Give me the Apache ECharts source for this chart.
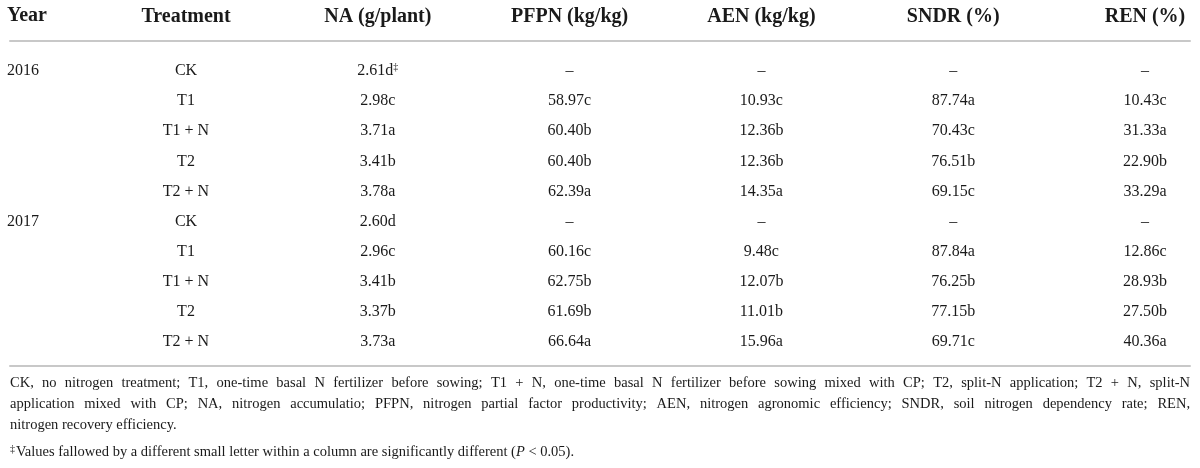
<!DOCTYPE html>
<html>
<head>
<meta charset="utf-8">
<title>Nitrogen use table</title>
<script src="https://cdn.jsdelivr.net/npm/echarts@6/dist/echarts.min.js"></script>
<style>
  html, body { margin: 0; padding: 0; background: #fff; }
  #main { width: 1200px; height: 468px; }
</style>
</head>
<body>
<div id="main"></div>
<script>
// table data
var columns = ['Treatment', 'NA (g/plant)', 'PFPN (kg/kg)', 'AEN (kg/kg)', 'SNDR (%)', 'REN (%)'];
var yearLabels = ['2016', '', '', '', '', '2017', '', '', '', ''];
var treatments = ['CK', 'T1', 'T1 + N', 'T2', 'T2 + N', 'CK', 'T1', 'T1 + N', 'T2', 'T2 + N'];

// values and significance letters, null = no value (–)
var naValues = [2.61, 2.98, 3.71, 3.41, 3.78, 2.60, 2.96, 3.41, 3.37, 3.73];
var naLetters = ['d', 'c', 'a', 'b', 'a', 'd', 'c', 'b', 'b', 'a'];
var pfpnValues = [null, 58.97, 60.40, 60.40, 62.39, null, 60.16, 62.75, 61.69, 66.64];
var pfpnLetters = ['', 'c', 'b', 'b', 'a', '', 'c', 'b', 'b', 'a'];
var aenValues = [null, 10.93, 12.36, 12.36, 14.35, null, 9.48, 12.07, 11.01, 15.96];
var aenLetters = ['', 'c', 'b', 'b', 'a', '', 'c', 'b', 'b', 'a'];
var sndrValues = [null, 87.74, 70.43, 76.51, 69.15, null, 87.84, 76.25, 77.15, 69.71];
var sndrLetters = ['', 'a', 'c', 'b', 'c', '', 'a', 'b', 'b', 'c'];
var renValues = [null, 10.43, 31.33, 22.90, 33.29, null, 12.86, 28.93, 27.50, 40.36];
var renLetters = ['', 'c', 'a', 'b', 'a', '', 'c', 'b', 'b', 'a'];

var footLines = [
  'CK, no nitrogen treatment; T1, one-time basal N fertilizer before sowing; T1 + N, one-time basal N fertilizer before sowing mixed with CP; T2, split-N application; T2 + N, split-N',
  'application mixed with CP; NA, nitrogen accumulatio; PFPN, nitrogen partial factor productivity; AEN, nitrogen agronomic efficiency; SNDR, soil nitrogen dependency rate; REN,',
  'nitrogen recovery efficiency.'
];

var serif = '"Liberation Serif", "DejaVu Serif", serif';
var ink = '#1a1a1a';
var rule = '#c8c8c8';

// build the cells: [column, row, text]
var cells = [];
treatments.forEach(function (t, i) { cells.push([0, i, t]); });
[[naValues, naLetters], [pfpnValues, pfpnLetters], [aenValues, aenLetters],
 [sndrValues, sndrLetters], [renValues, renLetters]].forEach(function (pair, c) {
  pair[0].forEach(function (v, i) {
    var txt = v == null ? '–' : v.toFixed(2) + pair[1][i];
    // first NA cell carries the footnote mark
    if (c === 0 && i === 0) txt += '{sup|‡}';
    cells.push([c + 1, i, txt]);
  });
});

// footnote: first two lines are justified to the full width
var footFont = '14.5px ' + serif;
var ctx = document.createElement('canvas').getContext('2d');
ctx.font = footFont;
var footGraphics = [];
footLines.forEach(function (line, li) {
  var y = 376 + li * 21;
  if (li === footLines.length - 1) {
    footGraphics.push({ type: 'text', x: 10, y: y, style: { text: line, font: footFont, fill: ink } });
    return;
  }
  var words = line.split(' ');
  var widths = words.map(function (w) { return ctx.measureText(w).width; });
  var total = widths.reduce(function (a, b) { return a + b; }, 0);
  var gap = (1190 - 10 - total) / (words.length - 1);
  var x = 10;
  words.forEach(function (w, k) {
    footGraphics.push({ type: 'text', x: x, y: y, style: { text: w, font: footFont, fill: ink } });
    x += widths[k] + gap;
  });
});
footGraphics.push({
  type: 'text', x: 10, y: 444,
  style: {
    text: '{sup|‡}Values fallowed by a different small letter within a column are significantly different ({it|P} < 0.05).',
    font: footFont, fill: ink,
    rich: {
      sup: { font: '10px ' + serif, fill: ink, padding: [0, 1, 7, 0] },
      it: { font: 'italic 14.5px ' + serif, fill: ink }
    }
  }
});

var myChart = echarts.init(document.getElementById('main'), null, { renderer: 'canvas' });

var option = {
  backgroundColor: '#fff',
  animation: false,
  title: {
    text: 'Year',
    left: 7,
    top: 6,
    padding: 0,
    textStyle: { fontFamily: serif, fontSize: 20, fontWeight: 'bold', color: ink }
  },
  grid: [
    // table body: columns sit on the category ticks
    { left: 186, right: 55, top: 56, bottom: 111 },
    // rules under the header and under the body
    { left: 10, right: 10, top: 41, bottom: 102 }
  ],
  xAxis: [
    {
      type: 'category',
      gridIndex: 0,
      position: 'top',
      offset: 15,
      boundaryGap: false,
      data: columns,
      axisLine: { show: false },
      axisTick: { show: false },
      axisLabel: {
        margin: 14, interval: 0,
        fontFamily: serif, fontSize: 20, fontWeight: 'bold', color: ink
      }
    },
    {
      type: 'value', gridIndex: 1, position: 'top', min: 0, max: 1,
      axisLine: { show: true, onZero: false, lineStyle: { color: rule, width: 2 } },
      axisTick: { show: false }, axisLabel: { show: false }, splitLine: { show: false }
    },
    {
      type: 'value', gridIndex: 1, position: 'bottom', min: 0, max: 1,
      axisLine: { show: true, onZero: false, lineStyle: { color: rule, width: 2 } },
      axisTick: { show: false }, axisLabel: { show: false }, splitLine: { show: false }
    }
  ],
  yAxis: [
    {
      type: 'category',
      gridIndex: 0,
      inverse: true,
      data: yearLabels,
      axisLine: { show: false },
      axisTick: { show: false },
      axisLabel: {
        align: 'left', margin: 179, interval: 0,
        fontFamily: serif, fontSize: 16, color: ink
      }
    },
    {
      type: 'value', gridIndex: 1, min: 0, max: 1, show: false
    }
  ],
  series: [{
    type: 'scatter',
    xAxisIndex: 0,
    yAxisIndex: 0,
    symbolSize: 0,
    clip: false,
    itemStyle: { opacity: 1 },
    data: cells,
    label: {
      show: true,
      position: 'inside',
      formatter: function (p) { return p.value[2]; },
      fontFamily: serif, fontSize: 16, color: ink,
      rich: {
        sup: { fontFamily: serif, fontSize: 10, color: ink, padding: [0, 0, 8, 0] }
      }
    }
  }],
  graphic: footGraphics
};

myChart.setOption(option);
</script>
</body>
</html>
